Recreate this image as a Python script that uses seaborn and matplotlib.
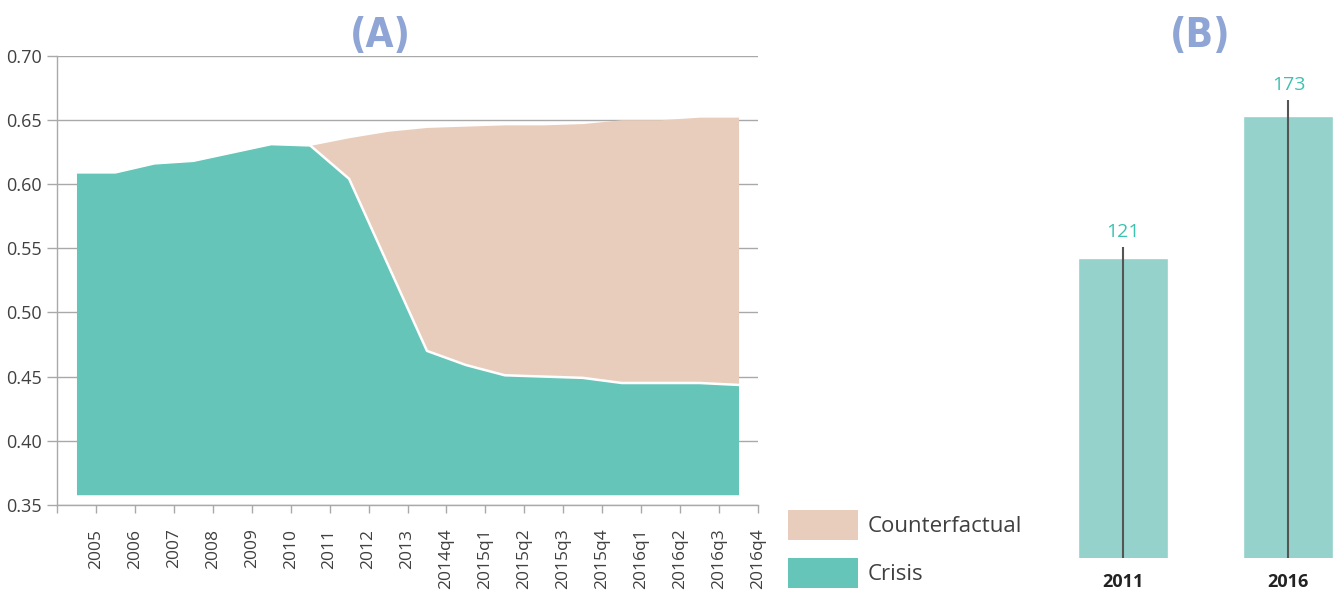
import numpy as np
import matplotlib
matplotlib.use("Agg")
import matplotlib.pyplot as plt
import seaborn as sns
from matplotlib.patches import Patch

# ---------------- data ----------------
periods = ["2005", "2006", "2007", "2008", "2009", "2010", "2011", "2012", "2013",
           "2014q4", "2015q1", "2015q2", "2015q3", "2015q4", "2016q1", "2016q2",
           "2016q3", "2016q4"]
crisis = [0.609, 0.609, 0.616, 0.618, 0.6245, 0.631, 0.630, 0.604, 0.537,
          0.470, 0.459, 0.451, 0.450, 0.449, 0.445, 0.445, 0.445, 0.4435]
counterfactual = [np.nan, np.nan, np.nan, np.nan, np.nan, np.nan, 0.630, 0.636, 0.641,
                  0.644, 0.645, 0.646, 0.646, 0.647, 0.650, 0.650, 0.652, 0.652]
area_base = 0.358
y_ticks = [0.35, 0.40, 0.45, 0.50, 0.55, 0.60, 0.65, 0.70]

bar_years = ["2011", "2016"]
bar_values = [121, 173]
bar_line_tops = [125, 179]

# ---------------- style ----------------
TEAL = "#66C5B9"
TAN = "#E8CDBC"
BAR = "#94D2CB"
LABEL_TEAL = "#3DC2B0"
TITLE = "#8EA5D5"
GRID = "#A9A9A9"
TXT = "#404040"

sns.set_theme(style="white")
plt.rcParams["font.family"] = ["Open Sans", "DejaVu Sans"]

fig = plt.figure(figsize=(13.33, 5.90), dpi=100)
W, H = 1333, 590

# ---------------- panel A ----------------
axA = fig.add_axes([57 / W, 1 - 505 / H, (758 - 57) / W, (505 - 55.5) / H])
x = np.arange(len(periods))
cr = np.array(crisis)
cf = np.array(counterfactual)
valid = ~np.isnan(cf)
axA.fill_between(x[valid], cr[valid], cf[valid], color=TAN, lw=0, zorder=2)
axA.fill_between(x, area_base, cr, color=TEAL, lw=0, zorder=3)
sns.lineplot(x=x, y=cr, color="white", lw=1.8, ax=axA, zorder=4)

axA.set_xlim(-0.5, len(periods) - 0.5)
axA.set_ylim(0.35, 0.70)
axA.set_xticks(np.arange(-0.5, len(periods), 1.0))
axA.set_xticklabels([""] + periods, rotation=90, fontsize=12.5, color=TXT)
axA.set_yticks(y_ticks)
axA.set_yticklabels([f"{v:.2f}" for v in y_ticks], fontsize=13, color=TXT)
axA.tick_params(axis="x", length=6, width=1, color=GRID, pad=11, bottom=True)
axA.tick_params(axis="y", length=7, width=1, color=GRID, pad=4, left=True)
axA.yaxis.grid(True, color=GRID, lw=1)
axA.xaxis.grid(False)
axA.set_axisbelow(True)
for s in ["top", "right"]:
    axA.spines[s].set_visible(False)
for s in ["left", "bottom"]:
    axA.spines[s].set_color(GRID)
    axA.spines[s].set_linewidth(1)
axA.set_xlabel("")
axA.set_ylabel("")

fig.text(380 / W, 1 - 36 / H, "(A)", ha="center", va="center", fontsize=29,
         color=TITLE, family="DejaVu Sans", fontstretch="condensed", fontweight="bold")

# legend
handles = [Patch(facecolor=TAN, edgecolor="none"), Patch(facecolor=TEAL, edgecolor="none")]
fig.legend(handles, ["Counterfactual", "Crisis"], loc="upper left",
           bbox_to_anchor=(788 / W, 1 - 510 / H), frameon=False, fontsize=16,
           handlelength=3.15, handleheight=1.70, handletextpad=0.45,
           labelspacing=0.79, borderpad=0, borderaxespad=0, labelcolor=TXT)

# ---------------- panel B ----------------
axB = fig.add_axes([1040.5 / W, 1 - 557.7 / H, 292.5 / W, (557.7 - 55) / H])
sns.barplot(x=bar_years, y=bar_values, color=BAR, saturation=1, width=0.545,
            ax=axB, zorder=2)
axB.vlines(range(len(bar_years)), 0, bar_line_tops, color="#555555", lw=1.5, zorder=3)
for i, (v, t) in enumerate(zip(bar_values, bar_line_tops)):
    axB.annotate(str(v), (i, t), xytext=(0, 4), textcoords="offset points",
                 ha="center", va="bottom", fontsize=14, color=LABEL_TEAL)
axB.set_xlim(-0.5, 1.27)
axB.set_ylim(11.2, 195.3)
axB.set_yticks([])
axB.tick_params(axis="x", length=0, pad=11)
for lbl in axB.get_xticklabels():
    lbl.set_fontweight("bold")
    lbl.set_fontsize(13)
    lbl.set_color("#222222")
for s in axB.spines.values():
    s.set_visible(False)
axB.grid(False)
axB.set_xlabel("")
axB.set_ylabel("")

fig.text(1200 / W, 1 - 36 / H, "(B)", ha="center", va="center", fontsize=29,
         color=TITLE, family="DejaVu Sans", fontstretch="condensed", fontweight="bold")

fig.savefig("out.png", dpi=100)
